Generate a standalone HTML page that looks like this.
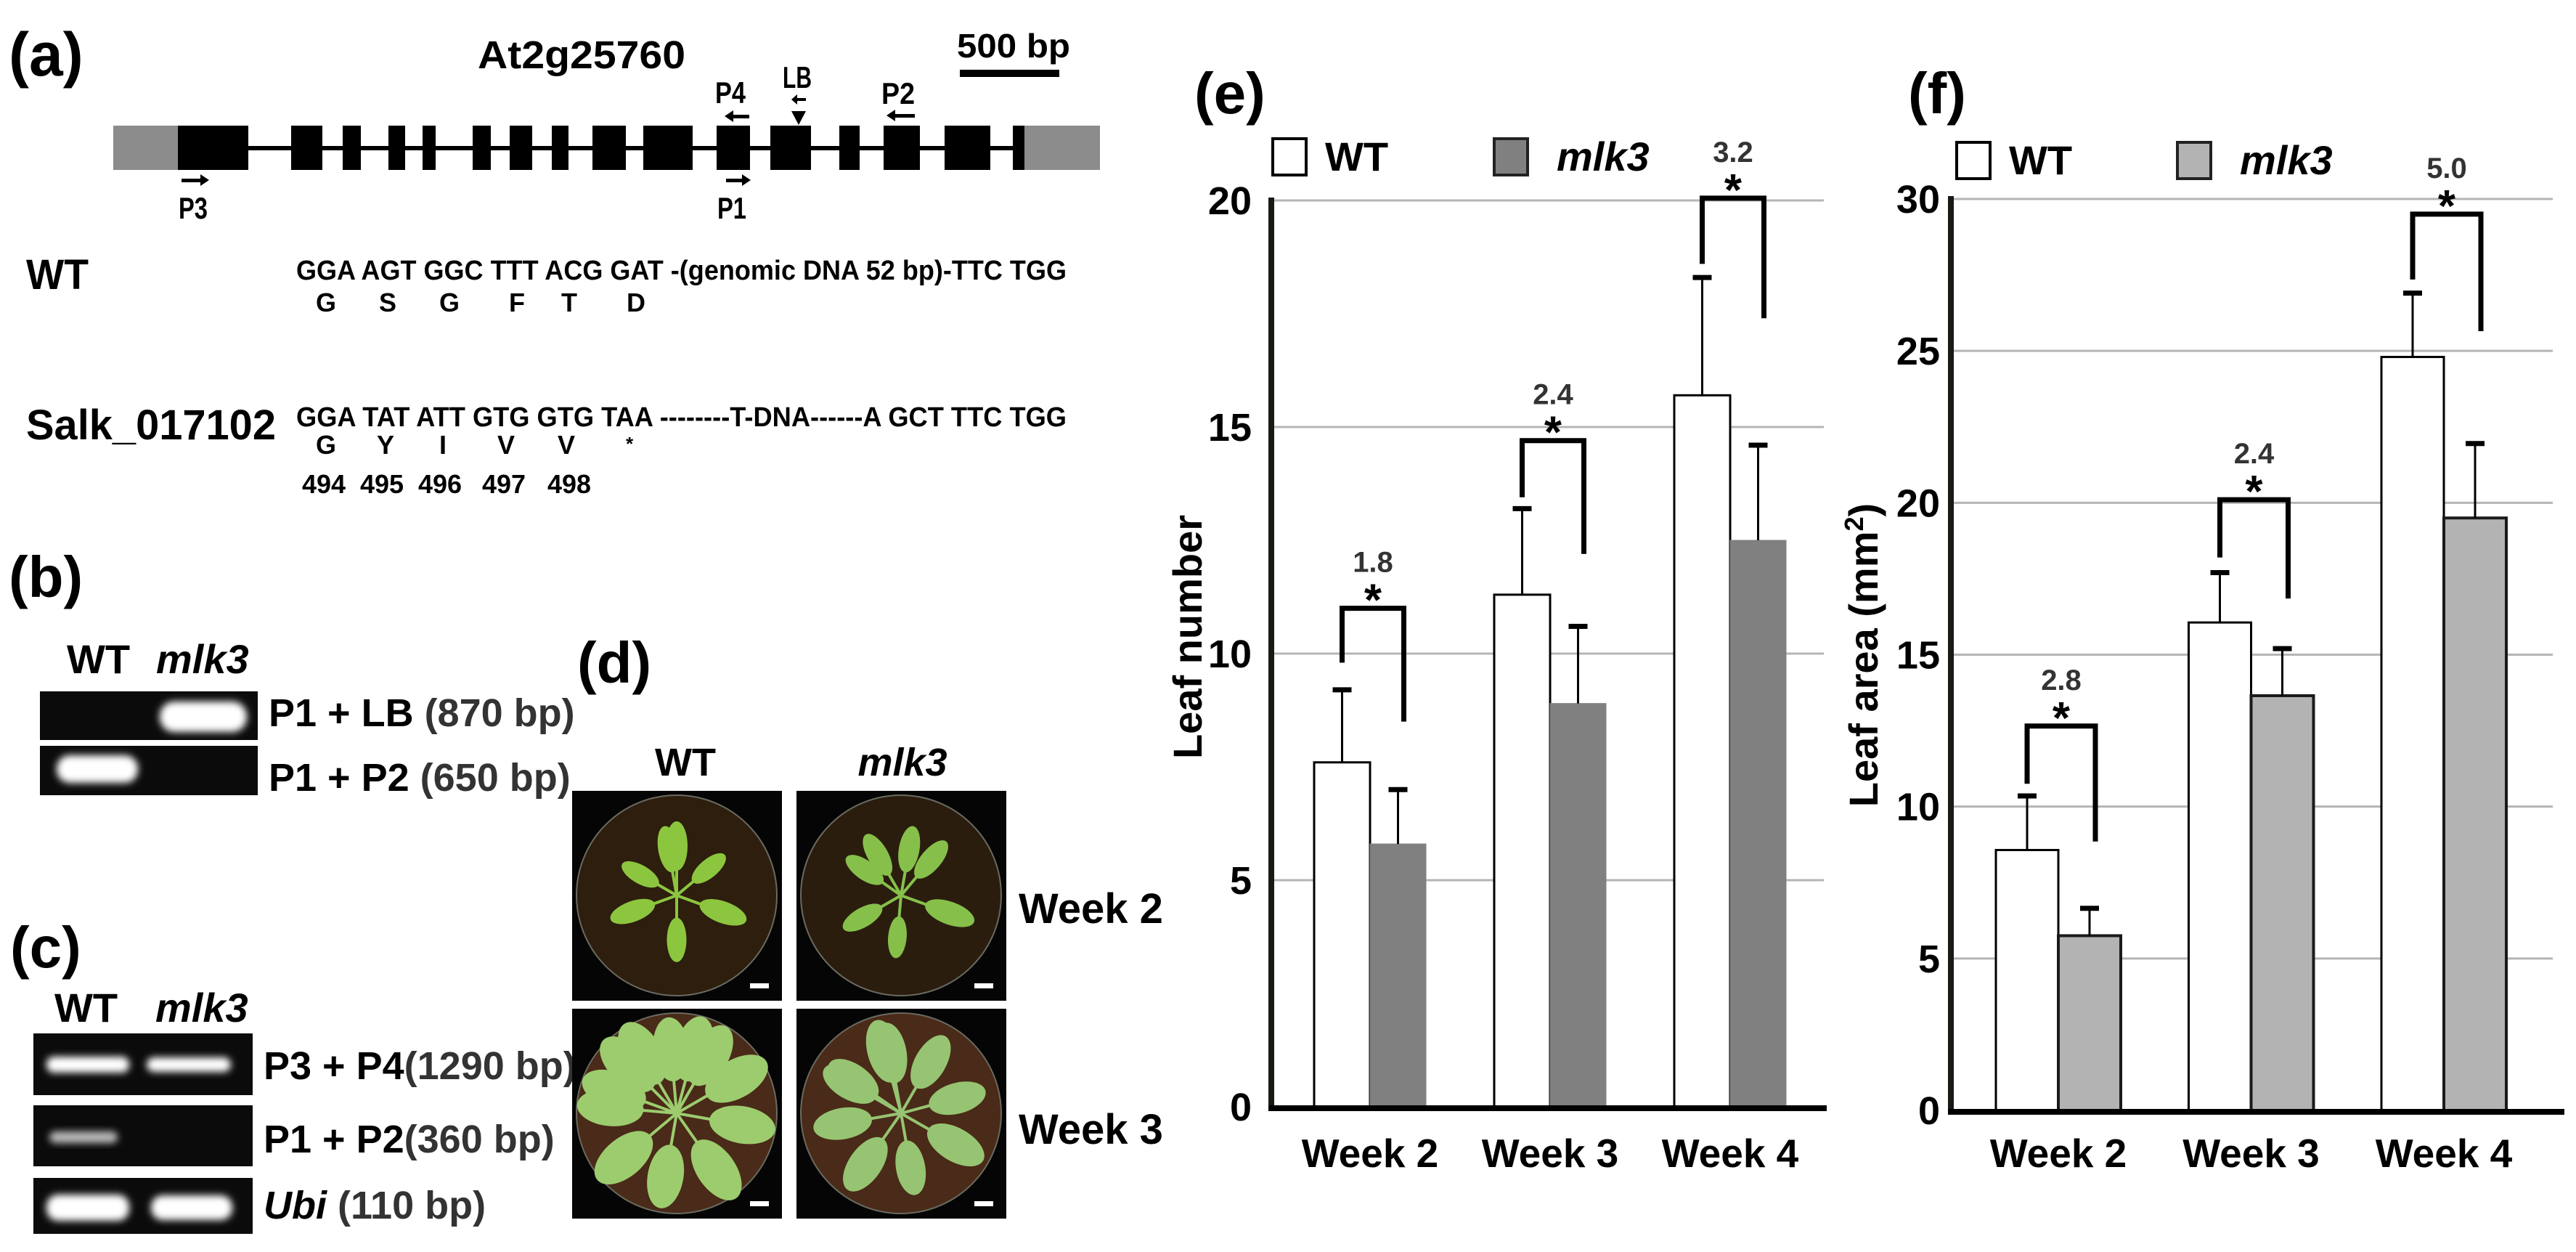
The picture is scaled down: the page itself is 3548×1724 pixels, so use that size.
<!DOCTYPE html>
<html><head><meta charset="utf-8"><style>
html,body{margin:0;padding:0;background:#fff;}
svg{display:block;}
.b{font-family:"Liberation Sans",Arial,sans-serif;font-weight:bold;}
.n{font-family:"Liberation Sans Narrow","Liberation Sans",sans-serif;font-weight:bold;}
</style></head><body>
<svg id="fig" xmlns="http://www.w3.org/2000/svg" width="3548" height="1724" viewBox="0 0 3548 1724">
<defs>
<filter id="blur" x="-20%" y="-50%" width="140%" height="200%"><feGaussianBlur stdDeviation="5"/></filter>
</defs>
<rect width="3548" height="1724" fill="#fff"/>

<!-- Panel (a) -->
<g>
<text class="n" x="12" y="104" font-size="84" font-weight="normal">(a)</text>
<text class="n" x="658" y="94" font-size="54" textLength="286" lengthAdjust="spacingAndGlyphs">At2g25760</text>
<text class="n" x="1318" y="79" font-size="46" textLength="156" lengthAdjust="spacingAndGlyphs">500 bp</text>
<rect x="1322" y="96" width="137" height="10" fill="#000"/>
<g id="gene">
<rect x="156" y="173" width="89" height="61" fill="#8c8c8c"/>
<rect x="1411" y="173" width="104" height="61" fill="#8c8c8c"/>
<rect x="245" y="201" width="1166" height="6" fill="#000"/>
</g>
<g>
<rect x="250" y="246" width="26" height="5" fill="#000"/><polygon points="276,240 288,248 276,256" fill="#000"/>
<text class="n" x="246" y="301" font-size="42" textLength="40" lengthAdjust="spacingAndGlyphs">P3</text></g>
<g>
<rect x="1000" y="246" width="22" height="5" fill="#000"/><polygon points="1022,240 1034,248 1022,256" fill="#000"/>
<text class="n" x="988" y="301" font-size="42" textLength="40" lengthAdjust="spacingAndGlyphs">P1</text></g>
<g>
<rect x="1010" y="158" width="22" height="5" fill="#000"/><polygon points="1010,152 998,160 1010,168" fill="#000"/>
<text class="n" x="985" y="142" font-size="42" textLength="42" lengthAdjust="spacingAndGlyphs">P4</text></g>
<g>
<text class="n" x="1078" y="121" font-size="42" textLength="40" lengthAdjust="spacingAndGlyphs">LB</text>
<rect x="1098" y="135" width="12" height="4" fill="#000"/><polygon points="1098,130 1090,137 1098,144" fill="#000"/>
<polygon points="1090,153 1110,153 1100,172" fill="#000"/></g>
<g>
<rect x="1233" y="157" width="27" height="5" fill="#000"/><polygon points="1233,151 1221,159 1233,167" fill="#000"/>
<text class="n" x="1214" y="143" font-size="42" textLength="46" lengthAdjust="spacingAndGlyphs">P2</text></g>

<text class="n" x="36" y="398" font-size="58" textLength="86" lengthAdjust="spacingAndGlyphs">WT</text>
<text class="n" x="408" y="385" font-size="38" font-weight="normal" textLength="1061" lengthAdjust="spacingAndGlyphs">GGA AGT GGC TTT ACG GAT -(genomic DNA 52 bp)-TTC TGG</text>
<g class="n" font-size="36" font-weight="normal" text-anchor="middle">
<text x="449" y="429">G</text><text x="534" y="429">S</text><text x="619" y="429">G</text><text x="712" y="429">F</text><text x="784" y="429">T</text><text x="876" y="429">D</text></g>
<text class="n" x="36" y="605" font-size="58" textLength="344" lengthAdjust="spacingAndGlyphs">Salk_017102</text>
<text class="n" x="408" y="587" font-size="38" font-weight="normal" textLength="1061" lengthAdjust="spacingAndGlyphs">GGA TAT ATT GTG GTG TAA --------T-DNA------A GCT TTC TGG</text>
<g class="n" font-size="36" font-weight="normal" text-anchor="middle">
<text x="449" y="625">G</text><text x="531" y="625">Y</text><text x="610" y="625">I</text><text x="697" y="625">V</text><text x="780" y="625">V</text><text x="867" y="620" font-size="26">*</text></g>
<g class="n" font-size="36" text-anchor="middle">
<text x="446" y="679">494</text><text x="526" y="679">495</text><text x="606" y="679">496</text><text x="694" y="679">497</text><text x="784" y="679">498</text></g>
</g>

<!-- Panel (b) -->
<g>
<text class="b" x="12" y="822" font-size="80">(b)</text>
<text class="b" x="92" y="927" font-size="56">WT</text>
<text class="b" x="215" y="927" font-size="56" font-style="italic">mlk3</text>
<rect x="55" y="952" width="300" height="67" fill="#0b0b0b"/>
<rect x="55" y="1027" width="300" height="68" fill="#0b0b0b"/>
<rect x="220" y="966" width="120" height="42" rx="20" fill="#fff" filter="url(#blur)"/>
<rect x="78" y="1040" width="112" height="38" rx="18" fill="#fff" filter="url(#blur)"/>
<text class="b" x="370" y="1000" font-size="54">P1 + LB <tspan fill="#333">(870 bp)</tspan></text>
<text class="b" x="370" y="1089" font-size="54">P1 + P2 <tspan fill="#333">(650 bp)</tspan></text>
</g>

<!-- Panel (c) -->
<g>
<text class="b" x="14" y="1332" font-size="80">(c)</text>
<text class="b" x="75" y="1407" font-size="56">WT</text>
<text class="b" x="214" y="1407" font-size="56" font-style="italic">mlk3</text>
<rect x="46" y="1423" width="302" height="85" fill="#0b0b0b"/>
<rect x="46" y="1522" width="302" height="84" fill="#0b0b0b"/>
<rect x="46" y="1622" width="302" height="77" fill="#0b0b0b"/>
<rect x="64" y="1455" width="114" height="22" rx="10" fill="#fff" filter="url(#blur)"/>
<rect x="202" y="1456" width="116" height="20" rx="10" fill="#fff" filter="url(#blur)"/>
<rect x="68" y="1558" width="94" height="16" rx="8" fill="#bbb" filter="url(#blur)"/>
<rect x="64" y="1645" width="114" height="36" rx="16" fill="#fff" filter="url(#blur)"/>
<rect x="208" y="1646" width="112" height="34" rx="16" fill="#fff" filter="url(#blur)"/>
<text class="b" x="363" y="1486" font-size="54">P3 + P4<tspan fill="#333">(1290 bp)</tspan></text>
<text class="b" x="363" y="1587" font-size="54">P1 + P2<tspan fill="#333">(360 bp)</tspan></text>
<text class="b" x="363" y="1678" font-size="54"><tspan font-style="italic">Ubi</tspan><tspan fill="#333"> (110 bp)</tspan></text>
</g>

<!-- Panel (d) -->
<g id="paneld">
<text class="b" x="795" y="940" font-size="80">(d)</text>
<text class="b" x="944" y="1068" font-size="54" text-anchor="middle">WT</text>
<text class="b" x="1243" y="1068" font-size="54" font-style="italic" text-anchor="middle">mlk3</text>
<text class="b" x="1403" y="1271" font-size="58">Week 2</text>
<text class="b" x="1403" y="1575" font-size="58">Week 3</text>
</g>

<!-- Panel (e) and (f) -->
<g id="chartE"></g>
<g id="chartF"></g>
</svg>
<script>
const NS="http://www.w3.org/2000/svg";
// ---- chart data ----
const weeks=["Week 2","Week 3","Week 4"];
const seriesNames=["WT","mlk3"];
const eTicks=[0,5,10,15,20];
const eWT=[7.6,11.3,15.7];
const eWTErr=[9.2,13.2,18.3];
const eMlk=[5.8,8.9,12.5];
const eMlkErr=[7.0,10.6,14.6];
const eBrTop=[11.0,14.7,20.05];
const eBrLeft=[9.8,13.45,18.6];
const eBrRight=[8.5,12.2,17.4];
const eFold=["1.8","2.4","3.2"];
const fTicks=[0,5,10,15,20,25,30];
const fWT=[8.57,16.06,24.8];
const fWTErr=[10.35,17.7,26.9];
const fMlk=[5.75,13.65,19.5];
const fMlkErr=[6.65,15.2,21.95];
const fBrTop=[12.65,20.1,29.5];
const fBrLeft=[10.75,18.2,27.35];
const fBrRight=[8.85,16.85,25.65];
const fFold=["2.8","2.4","5.0"];

function mk(parent,tag,attrs,text){
  const el=document.createElementNS(NS,tag);
  for(const k in attrs) el.setAttribute(k,attrs[k]);
  if(text!==undefined) el.textContent=text;
  parent.appendChild(el);
  return el;
}

function drawChart(g,cfg,wt,wtErr,mlk,mlkErr,brTop,brL,brR,fold,ticks){
  const vmax=ticks[ticks.length-1];
  const y=v=>cfg.y0-(v/vmax)*(cfg.y0-cfg.yTop);
  const cx=i=>cfg.c0+i*cfg.step;
  let t=mk(g,'text',{x:cfg.labelX,y:156,'font-size':80,class:'b'},cfg.label);
  
  
  ticks.forEach(v=>{
    if(v>0){
      const gl=mk(g,'line',{x1:cfg.ax,x2:cfg.gridEnd,y1:y(v),y2:y(v),stroke:'#b5b5b5','stroke-width':3});
      
      
    }
    const tl=mk(g,'text',{x:cfg.tickX,y:y(v)+19,'font-size':54,class:'b','text-anchor':'end'},String(v));
    
    
  });
  const bw=cfg.bw;
  weeks.forEach((w,i)=>{
    const c=cx(i);
    const wx=c-bw, mx=c;
    const b1=mk(g,'rect',{x:wx,y:y(wt[i]),width:bw,height:y(0)-y(wt[i]),fill:'#fff',stroke:'#000','stroke-width':3});
    
    
    const b2=mk(g,'rect',{x:mx,y:y(mlk[i]),width:bw,height:y(0)-y(mlk[i]),fill:cfg.mlkFill,stroke:cfg.mlkStroke,'stroke-width':cfg.mlkSW});
    
    
    [[wx+bw/2,wt[i],wtErr[i],'wt'],[mx+bw/2,mlk[i],mlkErr[i],'mlk3']].forEach(e=>{
      const eg=mk(g,'g',{});
      
      
      mk(eg,'line',{x1:e[0],x2:e[0],y1:y(e[1]),y2:y(e[2]),stroke:'#000','stroke-width':3});
      mk(eg,'line',{x1:e[0]-13,x2:e[0]+13,y1:y(e[2]),y2:y(e[2]),stroke:'#000','stroke-width':7});
    });
    const bg=mk(g,'g',{});
    
    
    const lx=wx+bw/2, rx=mx+bw/2+8;
    mk(bg,'polyline',{points:`${lx},${y(brL[i])} ${lx},${y(brTop[i])} ${rx},${y(brTop[i])} ${rx},${y(brR[i])}`,fill:'none',stroke:'#000','stroke-width':7});
    mk(bg,'text',{x:(lx+rx)/2,y:y(brTop[i])+10,'font-size':62,class:'b','text-anchor':'middle'},'*');
    mk(bg,'text',{x:(lx+rx)/2,y:y(brTop[i])-50,'font-size':40,class:'b','text-anchor':'middle',fill:'#333'},fold[i]);
    const wl=mk(g,'text',{x:c,y:1607,'font-size':55,class:'b','text-anchor':'middle'},w);
    
    
  });
  const ya=mk(g,'line',{x1:cfg.ax,x2:cfg.ax,y1:y(vmax)-4,y2:y(0)+4,stroke:'#1a1a14','stroke-width':8});
  
  
  const xa=mk(g,'line',{x1:cfg.ax-4,x2:cfg.axEnd,y1:y(0)+2,y2:y(0)+2,stroke:'#000','stroke-width':8});
  
  
  const yt=mk(g,'text',{x:0,y:0,'font-size':56,class:'b','text-anchor':'middle',transform:`translate(${cfg.titleX},${cfg.titleY}) rotate(-90)`},cfg.title);
  if(cfg.sup){ mk(yt,'tspan',{'baseline-shift':'super','font-size':36},'2'); mk(yt,'tspan',{},')'); }
  
  
  const lg=mk(g,'g',{});
  
  
  const l1=mk(lg,'rect',{x:cfg.leg1,y:cfg.legY,width:46,height:50,fill:'#fff',stroke:'#000','stroke-width':4});
  
  
  mk(lg,'text',{x:cfg.leg1+72,y:cfg.legY+44,'font-size':56,class:'b'},seriesNames[0]);
  const l2=mk(lg,'rect',{x:cfg.leg2,y:cfg.legY,width:46,height:50,fill:cfg.mlkFill,stroke:'#222','stroke-width':4});
  
  
  mk(lg,'text',{x:cfg.leg2+86,y:cfg.legY+44,'font-size':56,class:'b','font-style':'italic'},seriesNames[1]);
}

drawChart(document.getElementById('chartE'),{label:'(e)',labelX:1645,y0:1524,yTop:276,ax:1751,gridEnd:2512,axEnd:2516,tickX:1724,c0:1887,step:248,bw:77,mlkFill:'#808080',mlkStroke:'#808080',mlkSW:1,title:'Leaf number',titleX:1655,titleY:877,leg1:1753,leg2:2058,legY:191},
  eWT,eWTErr,eMlk,eMlkErr,eBrTop,eBrLeft,eBrRight,eFold,eTicks);
drawChart(document.getElementById('chartF'),{label:'(f)',labelX:2628,y0:1529,yTop:274,ax:2687,gridEnd:3516,axEnd:3532,tickX:2672,c0:2835,step:265.5,bw:86,mlkFill:'#b3b3b3',mlkStroke:'#1a1a1a',mlkSW:4,title:'Leaf area (mm',sup:true,titleX:2586,titleY:902,leg1:2695,leg2:2999,legY:196},
  fWT,fWTErr,fMlk,fMlkErr,fBrTop,fBrLeft,fBrRight,fFold,fTicks);

// plant photos (decorative)
const pd=document.getElementById('paneld');
const photos=[[788,1089,'#2e1e0e','#8cc63f',[[-100,95],[-40,85],[20,100],[90,90],[160,95],[210,85],[270,100]],'wt-week2',0.3],
  [1097,1089,'#2a1d0e','#86c04a',[[-120,95],[-50,95],[20,105],[95,85],[150,90],[215,90],[280,95]],'mlk3-week2',0.3],
  [788,1389,'#4a2a18','#9ccc6e',[[-160,135],[-120,140],[-75,135],[-30,140],[10,135],[55,140],[100,130],[140,140],[185,135],[225,140],[265,130],[300,135]],'wt-week3',0.38],
  [1097,1389,'#4a2a18','#96c472',[[-150,120],[-105,130],[-60,120],[-15,118],[30,128],[80,112],[125,126],[170,120],[215,118],[260,124]],'mlk3-week3',0.36]];
photos.forEach(p=>{
  const g=mk(pd,'g',{});
  
  
  mk(g,'rect',{x:p[0],y:p[1],width:289,height:289,fill:'#050505'});
  const cx=p[0]+144, cy=p[1]+144;
  mk(g,'circle',{cx:cx,cy:cy,r:138,fill:p[2],stroke:'#6a6a60','stroke-width':2});
  p[4].forEach(l=>{
    const len=l[1];
    mk(g,'line',{x1:cx,y1:cy,x2:cx+len*0.5,y2:cy,stroke:p[3],'stroke-width':4,transform:`rotate(${l[0]} ${cx} ${cy})`});
    mk(g,'ellipse',{cx:cx+len*0.68,cy:cy,rx:len*0.34,ry:len*p[6]*0.5,fill:p[3],transform:`rotate(${l[0]} ${cx} ${cy})`});
  });
  mk(g,'rect',{x:p[0]+245,y:p[1]+265,width:26,height:7,fill:'#fff'});
});

// exons
const exons=[[245,342],[401,444],[472,497],[535,558],[582,600],[651,676],[702,733],[760,783],[816,862],[886,954],[987,1033],[1061,1117],[1156,1184],[1217,1267],[1301,1364],[1395,1411]];
const gene=document.getElementById('gene');
exons.forEach((e,i)=>{
  const r=mk(gene,'rect',{x:e[0],y:173,width:e[1]-e[0],height:61,fill:'#000'});
  
  
});
</script>
</body></html>
